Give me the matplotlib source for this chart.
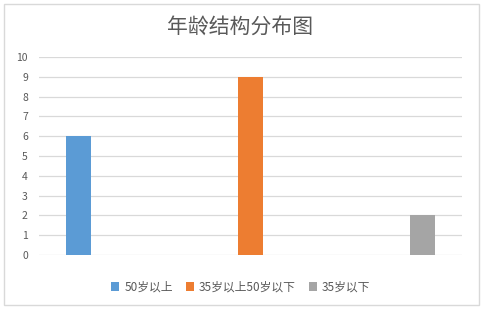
import matplotlib
matplotlib.use("Agg")
import matplotlib.pyplot as plt
from matplotlib.patches import Rectangle

plt.rcParams['font.family'] = ['Noto Sans CJK SC', 'DejaVu Sans']

title = "年龄结构分布图"
series = ["50岁以上", "35岁以上50岁以下", "35岁以下"]
values = [6, 9, 2]
colors = ["#5B9BD5", "#ED7D31", "#A5A5A5"]
yticks = list(range(0, 11))

fig = plt.figure(figsize=(4.84, 3.11), dpi=100)
ax = fig.add_axes([0.0806, 0.18, 0.874, 0.6367])

xs = list(range(len(series)))
bars = []
for x, v, c, s in zip(xs, values, colors, series):
    b = ax.bar(x, v, width=0.145, color=c, label=s, zorder=3)
    bars.append(b)

ax.set_xlim(-0.23, 2.23)
ax.set_ylim(0, 10)
ax.set_yticks(yticks)
ax.set_xticks([])
ax.grid(axis='y', color='#D9D9D9', linewidth=0.9, zorder=0)
for sp in ax.spines.values():
    sp.set_visible(False)
ax.tick_params(axis='y', length=0, labelsize=7.5, labelcolor='#595959', pad=8)

fig.text(0.497, 0.912, title, ha='center', va='center', fontsize=15, color='#595959')

leg = fig.legend(handles=[b[0] for b in bars], labels=series, loc='center',
                 bbox_to_anchor=(0.497, 0.077), ncol=3, frameon=False,
                 fontsize=8.5, handlelength=0.7, handleheight=0.7,
                 handletextpad=0.4, columnspacing=1.1)
for t in leg.get_texts():
    t.set_color('#595959')

fig.patches.append(Rectangle((4/484, 1-305/311), 475/484, 301/311, transform=fig.transFigure,
                             fill=False, edgecolor='#D9D9D9', linewidth=1))

fig.savefig("out.png", dpi=100)
